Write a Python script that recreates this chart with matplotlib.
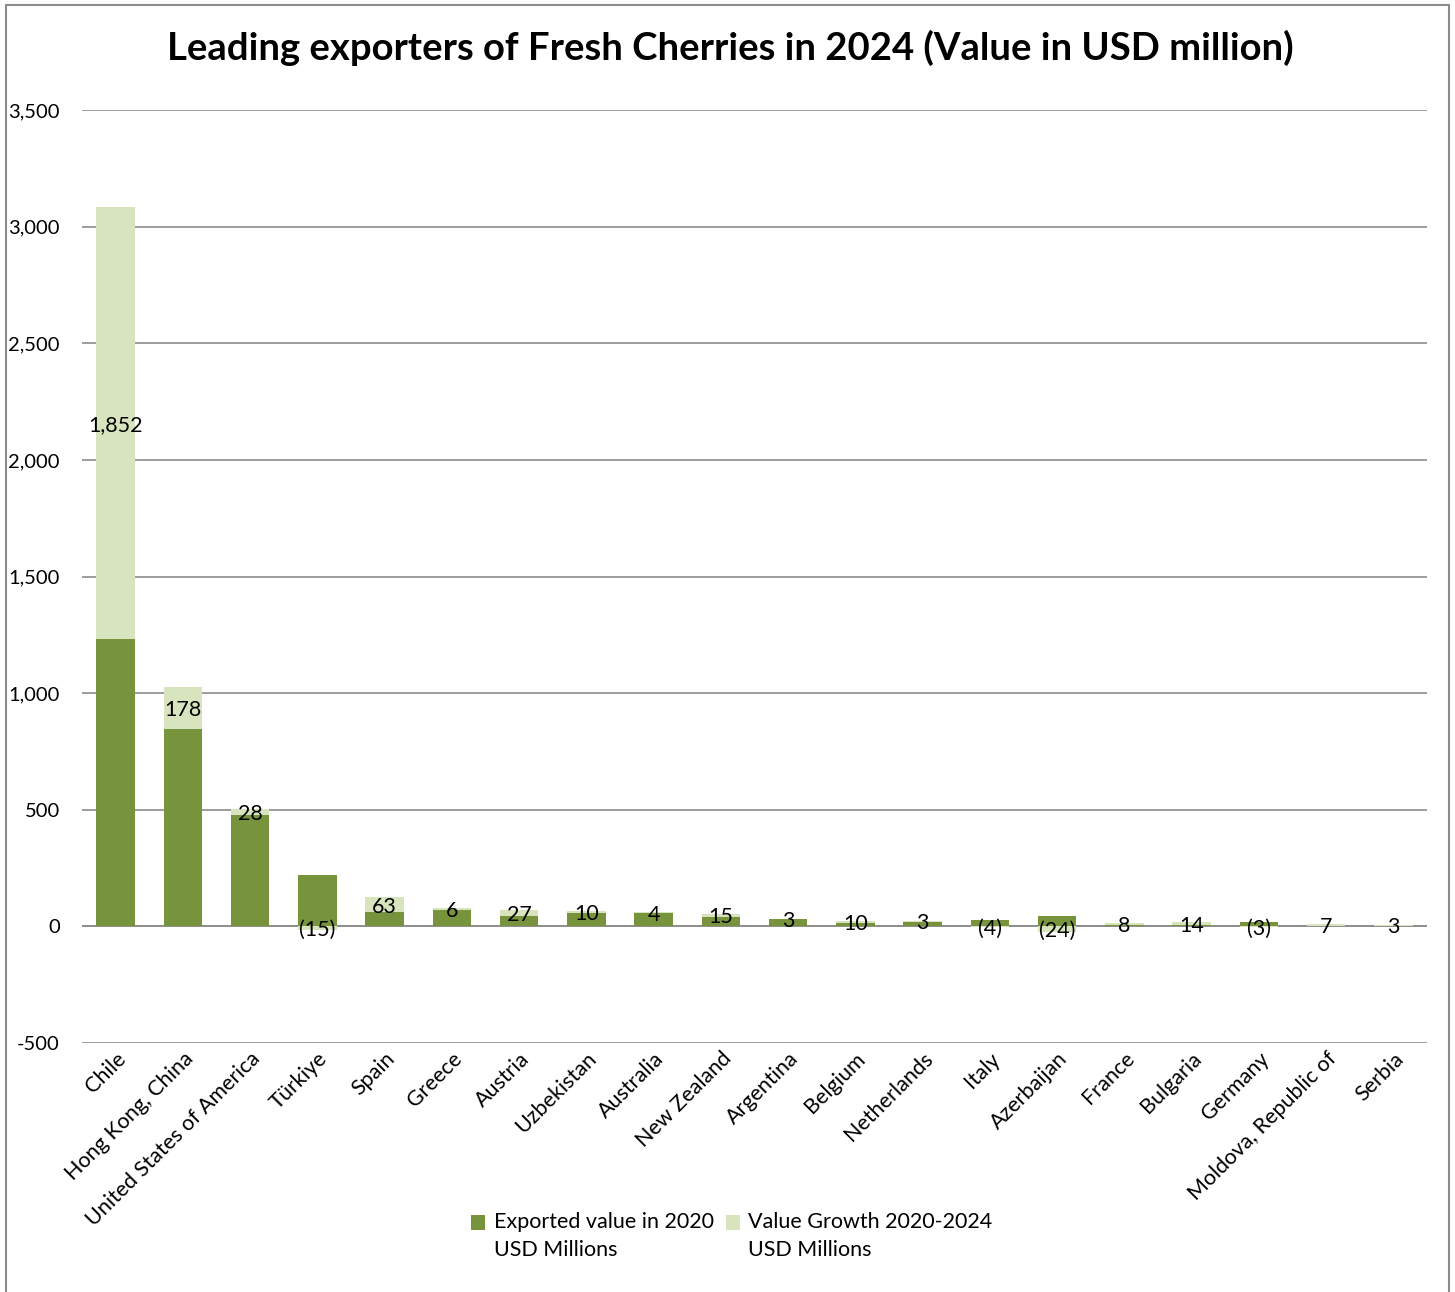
import numpy as np
import matplotlib.pyplot as plt
from matplotlib.patches import Rectangle
from matplotlib.ticker import FuncFormatter

countries = ["Chile", "Hong Kong, China", "United States of America", "Türkiye", "Spain",
             "Greece", "Austria", "Uzbekistan", "Australia", "New Zealand", "Argentina",
             "Belgium", "Netherlands", "Italy", "Azerbaijan", "France", "Bulgaria",
             "Germany", "Moldova, Republic of", "Serbia"]
value_2020 = [1231, 847, 476, 221, 61, 72, 43, 57, 57, 40, 30, 15, 20, 27, 45, 8, 4, 17, 2, 3]
growth = [1852, 178, 28, -15, 63, 6, 27, 10, 4, 15, 3, 10, 3, -4, -24, 8, 14, -3, 7, 3]

dark = "#77933C"
light = "#D7E4BD"
grid_c = "#8C8C8C"

plt.rcParams['font.family'] = ['Lato', 'DejaVu Sans']

fig = plt.figure(figsize=(14.55, 12.92), dpi=100)
ax = fig.add_axes([82 / 1455, 1 - 1043 / 1292, (1427 - 82) / 1455, (1043 - 110) / 1292])

x = np.arange(len(countries))
base = np.array(value_2020)
gr = np.array(growth)
gr_bottom = np.where(gr >= 0, base, 0)

w = 0.57
ax.bar(x, base, w, color=dark, label="Exported value in 2020\nUSD Millions", zorder=2)
ax.bar(x, gr, w, bottom=gr_bottom, color=light, label="Value Growth 2020-2024\nUSD Millions", zorder=2)

# growth labels, centred in the growth segment
for xi, b, g in zip(x, gr_bottom, gr):
    txt = f"{g:,}" if g >= 0 else f"({abs(g)})"
    ax.text(xi, b + g / 2, txt, ha="center", va="center_baseline", fontsize=15.5, color="black", zorder=3)

ax.set_ylim(-500, 3500)
ax.set_xlim(-0.5, len(countries) - 0.5)
ax.set_yticks(np.arange(-500, 3501, 500))
ax.yaxis.set_major_formatter(FuncFormatter(lambda v, p: f"{int(v):,}"))
ax.grid(axis="y", color=grid_c, linewidth=1.2, zorder=0)
ax.axhline(0, color=grid_c, linewidth=1.2, zorder=1)
for s in ax.spines.values():
    s.set_visible(False)
ax.tick_params(axis="y", length=0, pad=16, labelsize=14.5)
ax.tick_params(axis="x", length=0, pad=4, labelsize=15.5)
ax.set_xticks(x)
ax.set_xticklabels(countries, rotation=45, ha="right", rotation_mode="anchor")

fig.suptitle("Leading exporters of Fresh Cherries in 2024 (Value in USD million)",
             x=730 / 1455, y=1 - 48 / 1292, va="center", fontsize=27.5, fontweight="bold")

leg = fig.legend(loc="center", bbox_to_anchor=(732 / 1455, 1 - 1236 / 1292), ncol=2, frameon=False,
                 fontsize=15.5, handlelength=0.65, handleheight=0.65, handletextpad=0.4,
                 columnspacing=0.55)
for t in leg.get_texts():
    t.set_linespacing(1.45)
for h in leg.legend_handles:
    h.set_y(h.get_y() + 10)

fig.patches.append(Rectangle((6 / 1455, -0.01), (1449 - 6) / 1455, 1.01 - 5 / 1292,
                             transform=fig.transFigure, fill=False, edgecolor="#8C8C8C", linewidth=1.5))

fig.savefig("out.png", dpi=100)
